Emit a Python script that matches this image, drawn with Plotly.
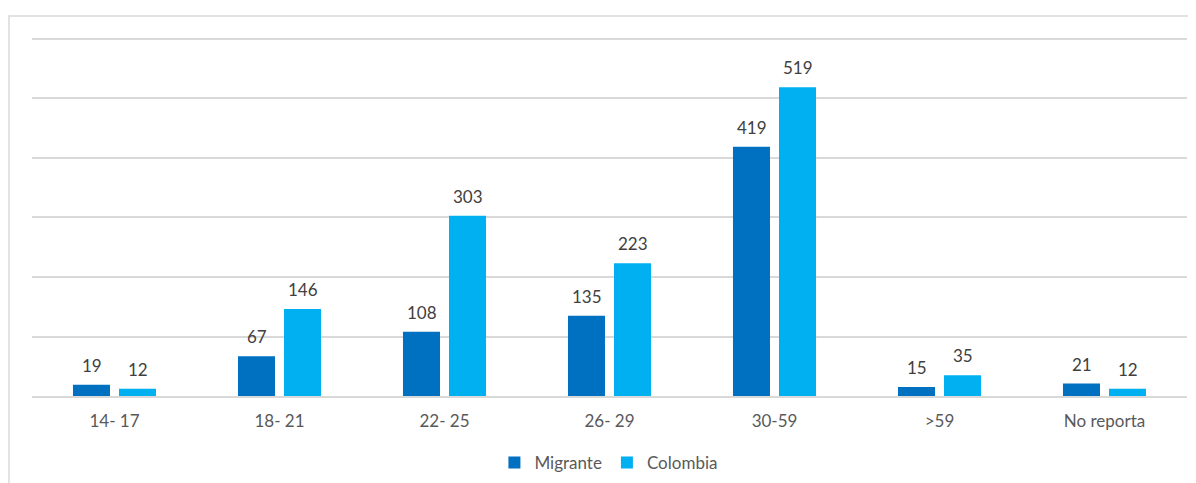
import plotly.graph_objects as go

categories = ["14- 17", "18- 21", "22- 25", "26- 29", "30-59", ">59", "No reporta"]
migrante = [19, 67, 108, 135, 419, 15, 21]
colombia = [12, 146, 303, 223, 519, 35, 12]
series_names = ["Migrante", "Colombia"]
colors = ["#0070C0", "#00B0F0"]

fig = go.Figure()
for name, vals, col in zip(series_names, [migrante, colombia], colors):
    fig.add_trace(go.Bar(name=name, x=categories, y=vals, marker_color=col,
                         marker_line_width=0))

annotations = []
for shift, vals in zip([-23, 23], [migrante, colombia]):
    for c, v in zip(categories, vals):
        annotations.append(dict(x=c, y=v, text=str(v), showarrow=False,
                                xshift=shift, yshift=7, yanchor="bottom",
                                font=dict(family="Lato", size=17, color="#404040")))

fig.update_layout(
    width=1188, height=475,
    margin=dict(l=24, r=9, t=28, b=87, autoexpand=False),
    paper_bgcolor="white", plot_bgcolor="white",
    barmode="group", bargap=0.442, bargroupgap=0.196,
    font=dict(family="Lato", size=17, color="#595959"),
    showlegend=True,
    legend=dict(orientation="h", x=0.4995, xanchor="center", y=-0.186, yanchor="middle",
                font=dict(size=17, color="#595959"), traceorder="normal",
                itemwidth=30),
    annotations=annotations,
    shapes=[dict(type="rect", xref="paper", yref="paper", x0=-0.0199, x1=1.03,
                 y0=-0.4, y1=1.0556, line=dict(color="#d9d9d9", width=1.5),
                 fillcolor="rgba(0,0,0,0)", layer="below")],
)
fig.update_xaxes(showgrid=False, showline=True, linecolor="#d9d9d9", linewidth=1.5,
                 ticks="", ticklabelstandoff=9, tickfont=dict(size=17, color="#595959"))
fig.update_yaxes(range=[0, 605], dtick=100, showgrid=True, gridcolor="#d9d9d9",
                 gridwidth=1.5, showticklabels=False, zeroline=False)

fig.write_html("out.html")
